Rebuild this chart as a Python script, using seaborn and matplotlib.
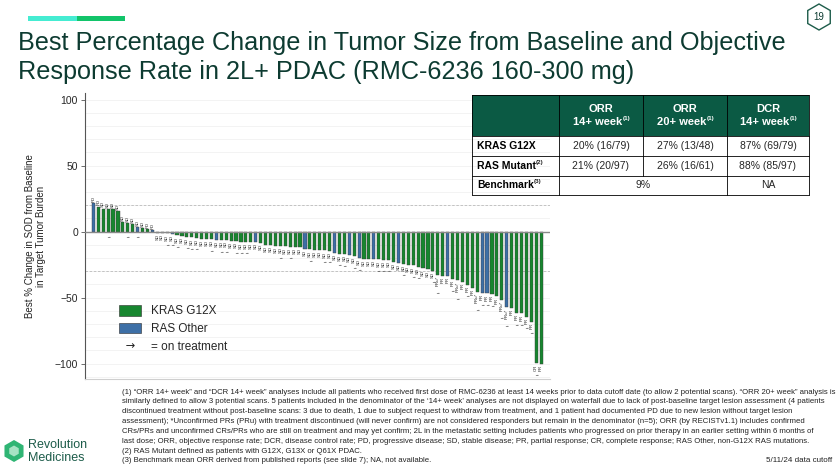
"""
Waterfall: best % change in tumor size (RMC-6236, 2L+ PDAC) with ORR table.
"""

import numpy as np
import pandas as pd
import matplotlib
import matplotlib.pyplot as plt
from matplotlib.patches import Patch, Rectangle, RegularPolygon
from matplotlib.lines import Line2D
import seaborn as sns

# ---- data ----
CHANGE = [
    21.5, 19.0, 17.5, 17.3, 17.0, 15.7, 7.6, 6.6, 5.6, 3.8,
    3.0, 1.8, 1.5, -0.8, -1.0, -1.3, -1.6, -2.8, -3.5, -4.0,
    -4.3, -4.8, -5.2, -5.5, -5.8, -6.0, -6.5, -6.5, -7.0, -7.3,
    -7.5, -7.8, -7.8, -8.0, -8.8, -10.0, -10.3, -10.6, -11.0, -11.2,
    -11.4, -11.4, -11.6, -13.0, -13.4, -13.6, -13.9, -14.2, -14.4, -16.2,
    -16.6, -17.0, -17.4, -18.5, -20.2, -20.6, -20.8, -20.9, -21.0, -21.1,
    -21.2, -22.7, -23.5, -24.2, -25.0, -25.6, -26.5, -27.8, -28.6, -29.8,
    -32.8, -33.4, -33.6, -36.0, -37.0, -37.9, -40.4, -42.9, -45.4, -46.7,
    -46.8, -47.3, -49.0, -51.7, -57.3, -58.0, -61.8, -61.9, -64.3, -68.2,
    -99.7, -100.0,
]
RAS_OTHER = [0, 9, 12, 16, 25, 33, 43, 49, 52, 54, 57, 62, 72, 79, 80, 84]
RESPONSE = (
    ["PD", "PD"] + ["SD"] * 9 + ["PD", "PD"] + ["SD"] * 57
    + ["PRu*", "PR", "PR", "PR", "PRu*", "PR", "PR", "PR", "PRu*", "PR",
       "PR", "PR", "PR", "PRu*", "PRu*", "PR", "PR", "PR", "PR", "PR",
       "CR", "PR"]
)
ON_TREATMENT = [3, 7, 9, 15, 16, 17, 19, 20, 21, 24, 26, 27, 29, 30, 31, 38,
                40, 44, 47, 48, 50, 51, 53, 54, 58, 59, 60, 63, 65, 66, 69,
                70, 73, 74, 76, 78, 79, 80, 81, 83, 84, 86, 87, 88, 89, 90]

Y_TICKS = [-100, -50, 0, 50, 100]

TABLE_HEADER = [("ORR", "14+ week"), ("ORR", "20+ week"), ("DCR", "14+ week")]
TABLE_ROWS = ["KRAS G12X", "RAS Mutant", "Benchmark"]
TABLE_ROW_SUP = ["", "(2)", "(3)"]
TABLE_VALUES = [
    ["20% (16/79)", "27% (13/48)", "87% (69/79)"],
    ["21% (20/97)", "26% (16/61)", "88% (85/97)"],
]
BENCH_ORR = "9%"
BENCH_DCR = "NA"

FOOTNOTES = [
    "(1) \u201cORR 14+ week\u201d and \u201cDCR 14+ week\u201d analyses include all patients who received first dose of RMC-6236 at least 14 weeks prior to data cutoff date (to allow 2 potential scans). \u201cORR 20+ week\u201d analysis is",
    "similarly defined to allow 3 potential scans. 5 patients included in the denominator of the \u201814+ week\u2019 analyses are not displayed on waterfall due to lack of post-baseline target lesion assessment (4 patients",
    "discontinued treatment without post-baseline scans: 3 due to death, 1 due to subject request to withdraw from treatment, and 1 patient had documented PD due to new lesion without target lesion",
    "assessment); *Unconfirmed PRs (PRu) with treatment discontinued (will never confirm) are not considered responders but remain in the denominator (n=5); ORR (by RECISTv1.1) includes confirmed",
    "CRs/PRs and unconfirmed CRs/PRs who are still on treatment and may yet confirm; 2L in the metastatic setting includes patients who progressed on prior therapy in an earlier setting within 6 months of",
    "last dose; ORR, objective response rate; DCR, disease control rate; PD, progressive disease; SD, stable disease; PR, partial response; CR, complete response; RAS Other, non-G12X RAS mutations.",
    "(2) RAS Mutant defined as patients with G12X, G13X or Q61X PDAC.",
    "(3) Benchmark mean ORR derived from published reports (see slide 7); NA, not available.",
]

GREEN = "#17862f"
BLUE = "#3d6fa6"
DARK = "#0d3b31"
TEAL = "#0b5a44"

sns.set_style("white")
plt.rcParams["font.family"] = ["Liberation Sans", "DejaVu Sans"]

W, H = 837, 468
fig = plt.figure(figsize=(W / 100, H / 100), dpi=100)

# ---- waterfall ----
ax = fig.add_axes([85 / W, 1 - 379 / H, (550 - 85) / W, (379 - 93) / H])
df = pd.DataFrame({"pt": np.arange(len(CHANGE)), "change": CHANGE})
bar_colors = [BLUE if i in RAS_OTHER else GREEN for i in range(len(CHANGE))]

for yv in range(-110, 101, 10):
    ax.axhline(yv, color="#efefef", lw=0.5, zorder=0)
ax.axhline(20, color="#bbbbbb", lw=0.6, ls=(0, (3, 2)), zorder=0.5)
ax.axhline(-30, color="#bbbbbb", lw=0.6, ls=(0, (3, 2)), zorder=0.5)
ax.axhline(0, color="#8a8a8a", lw=1.0, zorder=3)

sns.barplot(data=df, x="pt", y="change", hue="pt", palette=bar_colors,
            width=0.64, saturation=1, errorbar=None,
            edgecolor="#3a3a3a", linewidth=0.3, legend=False, ax=ax, zorder=2)

for i, (v, lab) in enumerate(zip(CHANGE, RESPONSE)):
    if v > 0:
        ax.text(i, v + 0.8, lab, rotation=90, fontsize=3.2, ha="center",
                va="bottom", color="#222222")
    else:
        ax.text(i, v - 0.8, lab, rotation=90, fontsize=3.2, ha="center",
                va="top", color="#222222")
    if i in ON_TREATMENT:
        ya = -2.5 if v > 0 else v - 0.8 - (2.6 * len(lab) + 1.2)
        ax.text(i, ya, "\u2192", fontsize=3.2, ha="center", va="top",
                color="#222222")

ax.set_xlim(-1.7, 92.8)
ax.set_ylim(-111.6, 105)
ax.set_yticks(Y_TICKS)
ax.set_xticks([])
ax.set_xlabel("")
ax.set_ylabel("Best % Change in SOD from Baseline\nin Target Tumor Burden",
              fontsize=7, labelpad=6, color="#222222")
ax.tick_params(axis="y", labelsize=7.5, length=3, width=0.6, color="#555555",
               left=True, pad=2)
for s in ["top", "right"]:
    ax.spines[s].set_visible(False)
ax.spines["left"].set_color("#555555")
ax.spines["left"].set_linewidth(0.8)
ax.spines["bottom"].set_color("#cfcfcf")
ax.spines["bottom"].set_linewidth(0.8)

handles = [
    Patch(facecolor=GREEN, edgecolor="#2b2b2b", linewidth=0.4, label="KRAS G12X"),
    Patch(facecolor=BLUE, edgecolor="#2b2b2b", linewidth=0.4, label="RAS Other"),
    Line2D([], [], marker=r"$\rightarrow$", color="#222222", linestyle="None",
           markersize=6, markeredgewidth=0, label="= on treatment"),
]
ax.legend(handles=handles, loc="lower left", bbox_to_anchor=(0.05, 0.055),
          frameon=False, fontsize=8.5, handlelength=1.9, handleheight=1.0,
          labelspacing=0.45, handletextpad=0.8)

# ---- overlay in pixel coordinates ----
ov = fig.add_axes([0, 0, 1, 1])
ov.set_xlim(0, W)
ov.set_ylim(H, 0)
ov.axis("off")

ov.add_patch(Rectangle((28, 15.5), 49, 5, color="#45ecd2", lw=0))
ov.add_patch(Rectangle((77, 15.5), 48, 5, color="#12c46a", lw=0))
ov.add_patch(RegularPolygon((819, 17), 6, radius=13, orientation=0,
                            facecolor="white", edgecolor="#1d5c4a", lw=1.0))
ov.text(819, 17.5, "19", fontsize=7, ha="center", va="center", color=DARK)

ov.text(18, 43, "Best Percentage Change in Tumor Size from Baseline and Objective",
        fontsize=18.2, ha="left", va="center", color=DARK)
ov.text(18, 72, "Response Rate in 2L+ PDAC (RMC-6236 160-300 mg)",
        fontsize=18.2, ha="left", va="center", color=DARK)

# table
xs = [472, 559, 643, 727, 809]
ys = [95, 136, 156, 176, 195]
ov.add_patch(Rectangle((xs[0], ys[0]), xs[-1] - xs[0], ys[1] - ys[0],
                       facecolor=TEAL, lw=0))
for y in ys:
    ov.plot([xs[0], xs[-1]], [y, y], color="black", lw=0.6)
for j, x in enumerate(xs):
    bottom = ys[3] if j == 2 else ys[-1]
    ov.plot([x, x], [ys[0], bottom], color="black", lw=0.6)

for j, (a, b) in enumerate(TABLE_HEADER):
    cx = (xs[j + 1] + xs[j + 2]) / 2
    ov.text(cx, 109, a, fontsize=8, weight="bold", color="white",
            ha="center", va="center")
    t = ov.text(cx - 3, 122, b, fontsize=8, weight="bold", color="white",
                ha="center", va="center")
    ov.annotate("(1)", xy=(1.0, 0.85), xycoords=t, fontsize=4.5,
                weight="bold", color="white", ha="left", va="center")

for r, name in enumerate(TABLE_ROWS):
    cy = (ys[r + 1] + ys[r + 2]) / 2
    t = ov.text(xs[0] + 5, cy, name, fontsize=7.5, weight="bold",
                color="black", ha="left", va="center")
    if TABLE_ROW_SUP[r]:
        ov.annotate(TABLE_ROW_SUP[r], xy=(1.0, 0.85), xycoords=t,
                    fontsize=4.5, weight="bold", ha="left", va="center")
    if r < len(TABLE_VALUES):
        for j, val in enumerate(TABLE_VALUES[r]):
            ov.text((xs[j + 1] + xs[j + 2]) / 2, cy, val, fontsize=7.5,
                    ha="center", va="center")
    else:
        ov.text(xs[2], cy, BENCH_ORR, fontsize=7.5, ha="center", va="center")
        ov.text((xs[3] + xs[4]) / 2, cy, BENCH_DCR, fontsize=7.5,
                ha="center", va="center")

# footnotes
for k, line in enumerate(FOOTNOTES):
    ov.text(122, 392 + k * 9.85, line, fontsize=5.6, ha="left", va="center",
            color="#222222")
ov.text(832, 461, "5/11/24 data cutoff", fontsize=5.8, ha="right",
        va="center", color="#222222")

# logo
ov.add_patch(RegularPolygon((14, 451), 6, radius=11, orientation=0,
                            facecolor="#2fb574", lw=0))
ov.add_patch(RegularPolygon((14, 451), 6, radius=5.5, orientation=0,
                            facecolor="#a6e3c4", lw=0))
ov.text(28, 445, "Revolution", fontsize=9, color="#1d5c4a", ha="left",
        va="center")
ov.text(28, 458, "Medicines", fontsize=9, color="#1d5c4a", ha="left",
        va="center")

fig.savefig("out.png", dpi=100)
plt.close(fig)
